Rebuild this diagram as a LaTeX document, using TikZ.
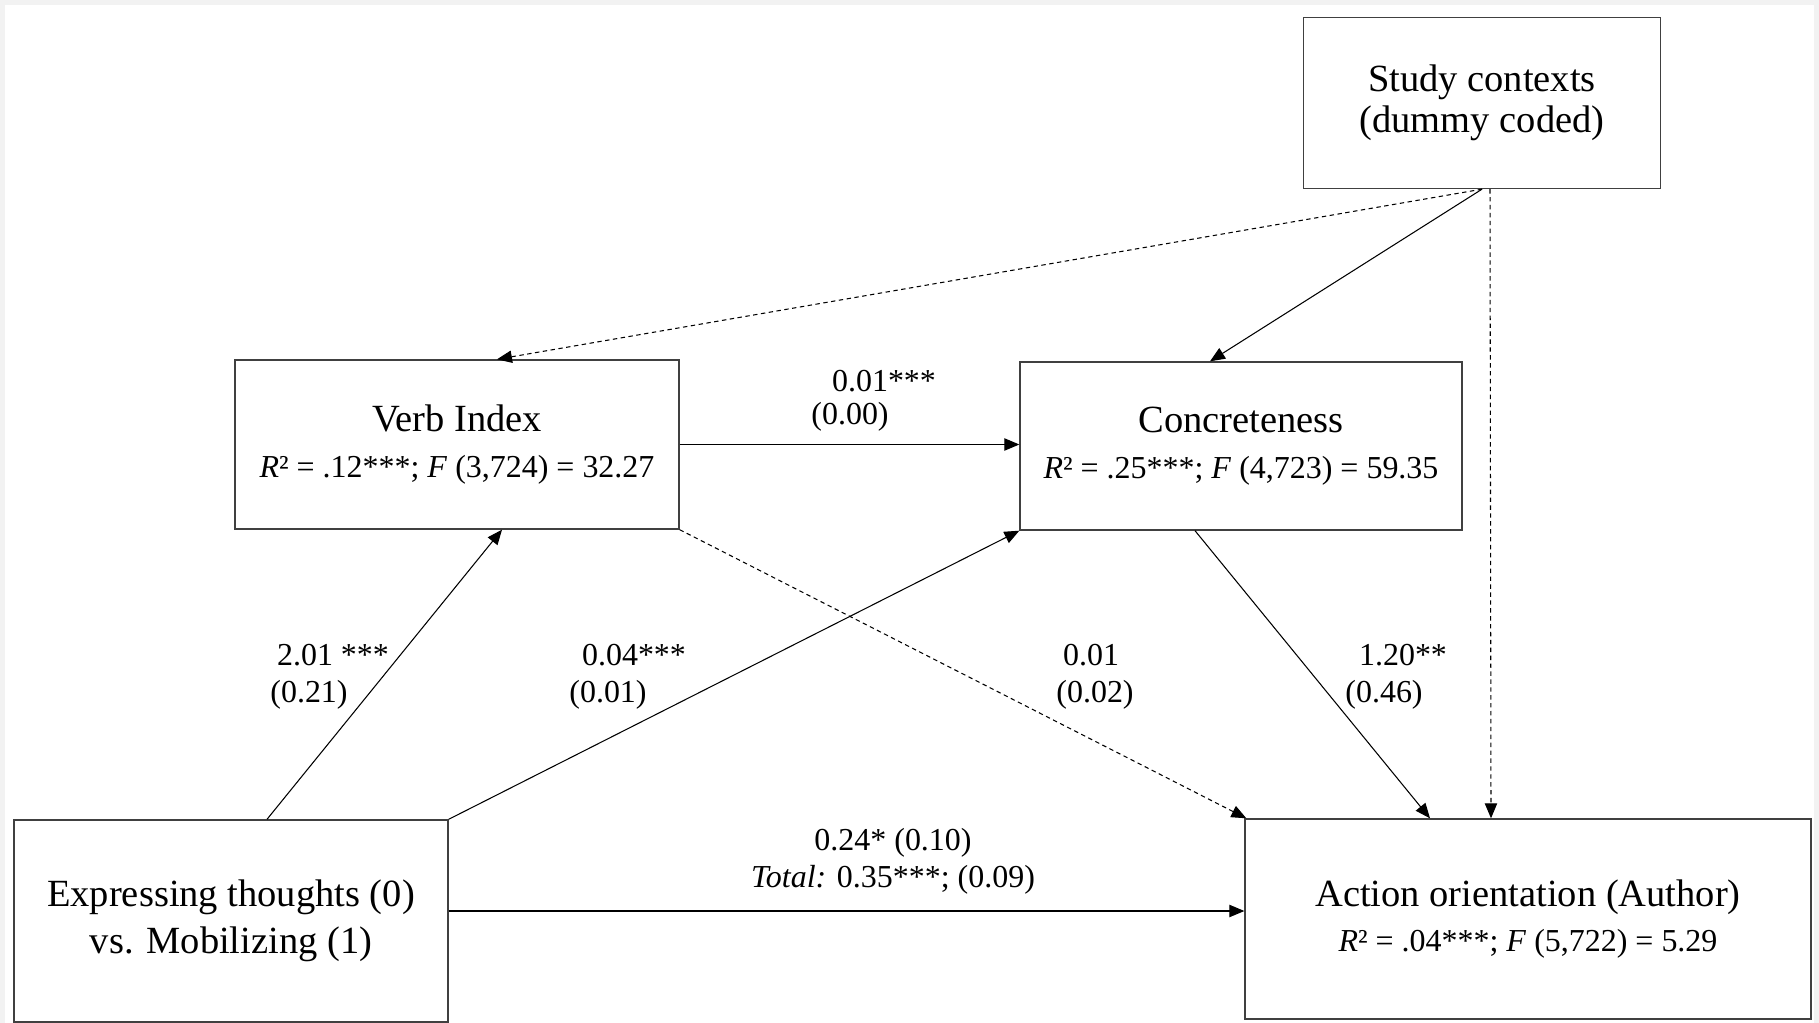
\documentclass[tikz,border=0pt]{standalone}
\usepackage{fontspec}
\setmainfont{Liberation Serif}
\usepackage{tikz}
\usetikzlibrary{arrows.meta,positioning,calc}

\newcommand{\boxfont}{\fontsize{21.9}{26.5}\selectfont}
\newcommand{\coeffont}{\fontsize{18.2}{21}\selectfont}

\begin{document}
\begin{tikzpicture}[x=0.02cm,y=-0.02cm,
 var/.style={rectangle,draw=black!75,line width=0.8pt,align=center,font=\boxfont,inner sep=0pt},
 coef/.style={font=\coeffont,inner sep=0pt},
 edge/.style={line width=0.6pt,->,>={Triangle[length=8.5pt,width=7pt]}},
 dashedge/.style={edge,dash pattern=on 2.5pt off 2pt}]
\useasboundingbox (0,0) rectangle (1819,1023);
\fill[gray!10] (0,0) rectangle (1819,1023);
\fill[white] (5,5) rectangle (1814,1023);

\node(study)[var,minimum width=7.14cm,minimum height=3.42cm] at (1482,103) {Study contexts\\[-3pt](dummy coded)};
\node(verb)[var,minimum width=8.88cm,minimum height=3.38cm] at (457,444.5) {Verb Index\\[0pt]{\coeffont\textit{R}² = .12***; \textit{F} (3,724) = 32.27}};
\node(conc)[var,minimum width=8.84cm,minimum height=3.36cm] at (1241,446) {Concreteness\\[0pt]{\coeffont\textit{R}² = .25***; \textit{F} (4,723) = 59.35}};
\node(expr)[var,minimum width=8.68cm,minimum height=4.04cm] at (231,921) {Expressing thoughts (0)\\vs. Mobilizing (1)};
\node(action)[var,minimum width=11.32cm,minimum height=4.0cm] at (1528,919) {Action orientation (Author)\\[-1pt]{\coeffont\textit{R}² = .04***; \textit{F} (5,722) = 5.29}};

\node(a1)[coef] at (333,655) {2.01 ***};
\node(a2)[coef] at (309,695) {(0.21)};
\node(b1)[coef] at (634,655) {0.04***};
\node(b2)[coef] at (608,695) {(0.01)};
\node(c1)[coef] at (1091,655) {0.01};
\node(c2)[coef] at (1095,695) {(0.02)};
\node(d1)[coef] at (1403,655) {1.20**};
\node(d2)[coef] at (1384,695) {(0.46)};
\node(e1)[coef] at (884,381) {0.01***};
\node(e2)[coef] at (850,417) {(0.00)};
\node(f1)[coef] at (893,843) {0.24* (0.10)};
\node(f2)[coef] at (893,880) {\textit{Total:} 0.35***; (0.09)};

\draw [dashedge] (study.south) to ($(verb.north)+(40,0)$);
\draw [edge] (study.south) to ($(conc.north)+(-31,0)$);
\draw [dashedge] ($(study.south)+(8,0)$) to ($(action.north)+(-37,0)$);
\draw [edge] (verb.east) to (verb.east -| conc.west);
\draw [dashedge] (verb.south east) to ($(action.north west)+(2,0)$);
\draw [edge] ($(expr.north)+(36,0)$) to ($(verb.south)+(45,0)$);
\draw [edge] (expr.north east) to (conc.south west);
\draw [edge] ($(conc.south)+(-46,0)$) to ($(action.north)+(-98,0)$);
\draw [edge] ($(expr.east)+(0,-10)$) to ($(action.west)+(0,-8)$);
\end{tikzpicture}
\end{document}
